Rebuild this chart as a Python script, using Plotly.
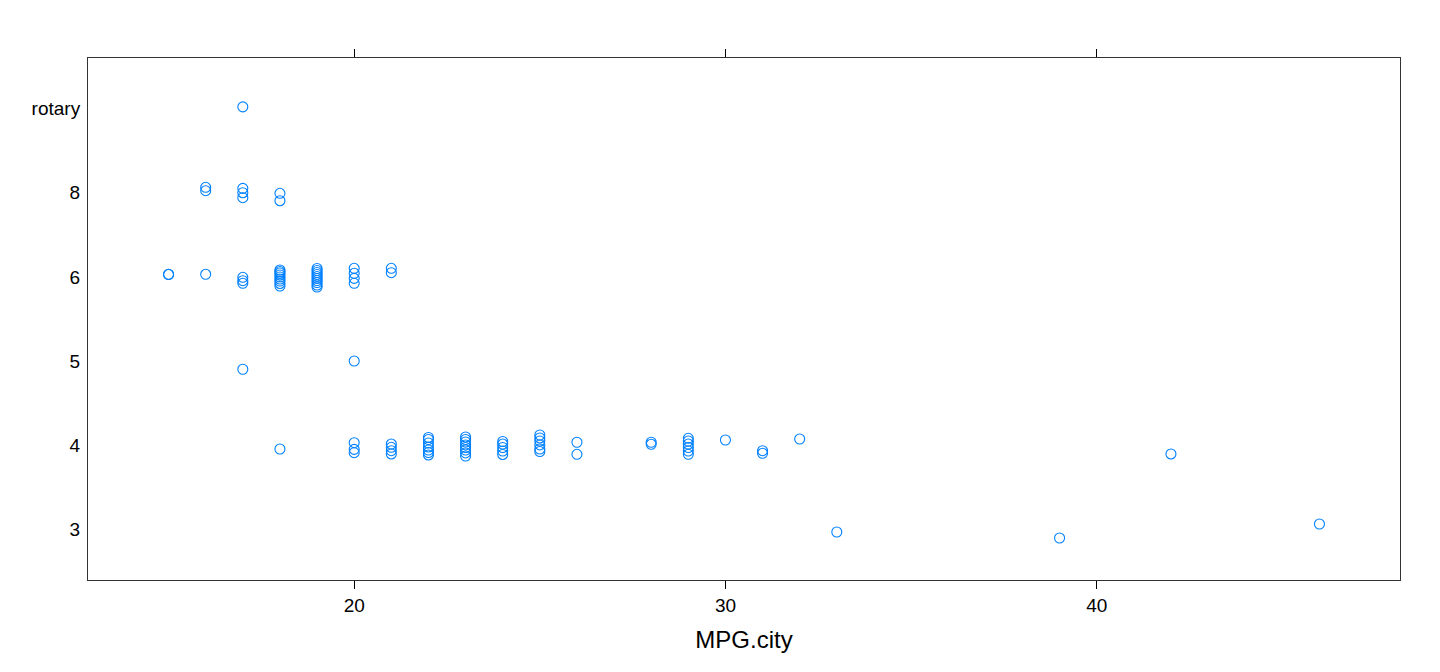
import plotly.graph_objects as go

# Cars93: number of cylinders vs city MPG (lattice stripplot, jittered)
levels = ['3', '4', '5', '6', '8', 'rotary']

cylinders = (['rotary']
             + ['8'] * 7
             + ['6'] * 31
             + ['5'] * 2
             + ['4'] * 49
             + ['3'] * 3)

mpg_city = ([17]
            + [16, 16, 17, 17, 17, 18, 18]
            + [15, 15, 16, 17, 17, 17]
            + [18] * 9 + [19] * 10 + [20] * 4 + [21] * 2
            + [17, 20]
            + [18, 20, 20, 20, 21, 21, 21, 21]
            + [22] * 7 + [23] * 8 + [24] * 5 + [25] * 6
            + [26, 26, 28, 28] + [29] * 6 + [30, 31, 31, 32, 42]
            + [33, 39, 46])

# vertical jitter
y_jitter = ([0.02]
            + [0.064, 0.024, 0.052, 0.0, -0.059, -0.007, -0.095]
            + [0.031, 0.028, 0.031, -0.005, -0.045, -0.076]
            + [0.082, 0.064, 0.046, 0.023, -0.001, -0.025, -0.049, -0.078, -0.108]
            + [0.100, 0.076, 0.052, 0.029, 0.005, -0.019, -0.043, -0.067, -0.096, -0.120]
            + [0.102, 0.043, -0.017, -0.076]
            + [0.102, 0.050]
            + [-0.097, 0.001]
            + [-0.044, 0.031, -0.048, -0.088, 0.015, -0.024, -0.064, -0.103]
            + [0.093, 0.069, 0.027, -0.020, -0.056, -0.086, -0.115]
            + [0.099, 0.069, 0.039, 0.004, -0.026, -0.056, -0.091, -0.127]
            + [0.045, 0.015, -0.026, -0.068, -0.109]
            + [0.122, 0.087, 0.051, 0.004, -0.044, -0.074]
            + [0.036, -0.107, 0.036, 0.012]
            + [0.083, 0.051, 0.015, -0.026, -0.068, -0.107]
            + [0.063, -0.064, -0.095, 0.075, -0.103]
            + [-0.030, -0.101, 0.065])

y_pos = [levels.index(c) + 1 + j for c, j in zip(cylinders, y_jitter)]

fig = go.Figure()
fig.add_trace(go.Scatter(
    x=mpg_city,
    y=y_pos,
    mode='markers',
    marker=dict(symbol='circle-open', size=10, color='#0080ff',
                line=dict(width=1.1, color='#0080ff')),
    showlegend=False,
))

axis_font = dict(family='Liberation Sans, Arial, sans-serif', size=19, color='black')

# page body adds 8px offset, so margins are trimmed by that much
fig.update_layout(
    width=1440, height=672,
    margin=dict(l=80, r=48, t=50, b=100),
    plot_bgcolor='white', paper_bgcolor='white',
    font=axis_font,
    xaxis=dict(
        range=[12.83, 48.17],
        tickvals=[20, 30, 40],
        ticks='outside', ticklen=8, tickcolor='black', tickwidth=1,
        showline=True, linecolor='#333333', linewidth=1, mirror='ticks',
        showgrid=False, zeroline=False,
        tickfont=axis_font,
        title=dict(text='MPG.city', font=dict(size=24), standoff=16),
    ),
    yaxis=dict(
        range=[0.4, 6.6],
        tickvals=list(range(1, len(levels) + 1)),
        ticktext=levels,
        ticks='',
        showline=True, linecolor='#333333', linewidth=1, mirror=True,
        showgrid=False, zeroline=False,
        tickfont=axis_font,
        ticklabelstandoff=3,
    ),
)

fig.write_html("out.html")
